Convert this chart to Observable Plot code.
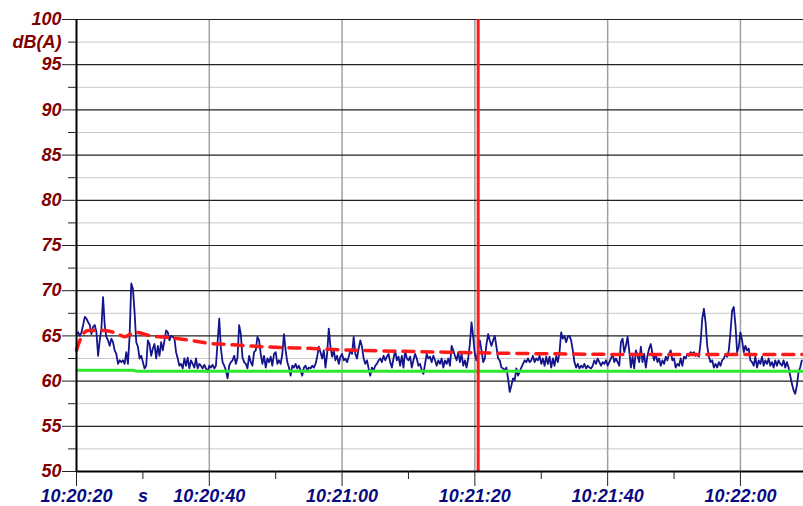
<!DOCTYPE html>
<html>
<head>
<meta charset="utf-8">
<script src="https://cdn.jsdelivr.net/npm/d3@7"></script>
<script src="https://cdn.jsdelivr.net/npm/@observablehq/plot@0.6"></script>
<style>
  html, body { margin: 0; padding: 0; background: #ffffff; }
  #chart svg { display: block; }
</style>
</head>
<body>
<div id="chart"></div>
<script>
// ---- Data (seconds after 10:20:20, sound level in dB(A)) ----
const sampleStep = 0.25; // s between samples of the instantaneous level
const levelPart1 = [
  65.2,65.4,65.0,65.4,66.2,67.1,66.9,66.5,66.2,65.2,
  66.0,66.2,65.4,62.8,64.5,65.8,69.3,66.2,64.9,64.5,
  63.9,64.7,64.3,63.4,63.0,61.9,62.3,62.1,62.3,61.9,
  63.2,61.9,65.0,70.8,70.2,67.6,64.3,63.8,62.5,62.8,
  62.1,61.4,61.7,64.5,64.1,62.8,63.6,64.1,62.5,63.9,
  62.8,64.3,63.4,64.5,65.6,65.4,64.5,65.0,64.9,64.7,
  63.2,62.5,61.7,61.9,61.4,62.5,61.7,62.6,61.4,62.3,
  61.9,61.5,62.5,61.4,61.9,61.7,61.4,61.8,61.4,61.0,
  61.7,61.5,61.8,61.4,61.7,64.3,66.9,63.6,62.1,61.7,
  61.2,60.3,61.7,62.1,62.3,62.8,61.9,62.6,66.2,65.2,
  62.6,62.1,61.9,61.4,62.8,62.1,61.7,63.2,63.4,64.9
];
const levelPart2 = [
  64.5,63.0,61.9,62.8,61.5,62.5,62.1,62.7,61.7,63.0,
  63.2,61.9,62.3,61.9,63.0,65.2,63.4,62.1,61.5,60.6,
  61.7,61.5,61.9,61.4,61.7,61.2,60.6,61.5,61.7,61.2,
  61.5,61.4,61.7,61.5,61.9,62.7,63.8,63.2,62.5,63.4,
  61.5,63.0,65.8,63.8,62.7,63.4,62.3,62.8,61.9,62.7,
  63.0,62.3,62.5,62.1,62.7,63.4,63.0,64.9,63.0,62.5,
  63.6,64.5,63.8,62.5,61.9,62.3,61.4,60.6,61.5,61.2,
  61.7,61.9,62.3,62.5,62.1,62.8,62.3,62.7,63.0,62.1,
  61.5,62.5,63.4,62.3,62.7,61.7,62.8,61.5,63.4,62.5,
  62.3,62.7,61.5,62.3,63.0,62.5,61.7,61.9,61.2,60.8,
  61.9,63.0,62.5,62.7,62.1,62.8,62.3,61.7
];
const levelPart3 = [
  62.3,61.9,62.5,61.5,62.3,61.9,62.5,61.7,63.9,63.4,
  62.8,62.3,63.2,62.1,63.0,61.7,62.3,61.5,62.5,64.1,
  66.5,64.9,63.0,62.3,63.4,64.5,63.4,62.1,62.5,64.1,
  65.2,64.5,63.9,64.5,65.0,63.8,62.5,62.3,61.5,61.4,
  61.2,61.5,60.3,58.8,59.5,60.3,60.1,61.4,60.6,61.0,
  61.5,61.9,62.3,62.1,62.5,62.1,62.3,62.8,62.1,62.5,
  62.3,62.8,61.9,62.5,61.7,62.7,61.9,62.7,61.5,62.5,
  61.7,62.8,62.1,63.2,65.4,64.7,65.0,64.3,64.9,65.0,
  64.5,63.4,62.1,61.5,61.9,61.4,61.7,61.5,61.9,61.4,
  61.7,61.5,61.4,61.7,62.3,61.9,62.5,62.1,61.7,62.1,
  61.9,62.3,61.7,62.1,62.5,63.0,62.1,62.5
];
const levelPart4 = [
  62.1,61.7,64.3,64.7,63.2,63.9,64.9,63.4,61.5,62.7,
  61.4,63.4,62.8,62.1,63.8,62.1,63.0,61.5,62.8,63.6,
  64.1,63.0,62.3,63.0,62.1,62.5,61.7,62.3,61.9,62.7,
  62.3,63.0,63.4,62.3,62.5,61.5,61.9,61.7,62.5,61.7,
  62.7,62.5,63.0,62.8,63.2,63.0,63.2,62.8,63.0,62.7,
  64.3,66.9,68.0,66.5,63.9,62.7,62.1,62.3,61.5,61.9,
  61.5,62.1,61.7,62.3,62.5,63.0,62.7,63.4,65.4,67.8,
  68.2,66.2,63.2,63.8,65.4,64.5,63.2,63.9,63.4,63.6,
  62.3,62.1,61.7,62.7,61.5,62.3,61.9,62.7,61.7,62.3,
  61.9,62.5,61.7,62.1,61.5,62.3,61.7,62.3,61.9,61.7,
  62.3,61.5,62.1,61.5,60.6,59.7,59.0,58.6,59.5,61.0,
  61.5,62.3
];

// running Leq (red dashed)
const leqSeconds = [0, 0.75, 1.75, 4.25, 6.25, 7.25, 8.75, 11.25, 14.25, 17.25, 19.75, 22.75, 25.75, 28.2, 35.6, 42.3, 49, 55.6, 62.7, 74.3, 83, 100, 109.5];
const leqValues  = [63.4, 64.9, 65.6, 65.6, 65.2, 64.9, 65.4, 65.0, 64.8, 64.5, 64.2, 64.05, 63.9, 63.8, 63.6, 63.4, 63.3, 63.2, 63.1, 63.0, 62.95, 62.95, 62.95];

// lower reference level (green)
const greenSeconds = [0, 8.5, 9, 109.5];
const greenValues  = [61.2, 61.2, 61.1, 61.1];

// cursor (red vertical)
const cursorSecond = 60.5;

// axes
const xDomain = [0, 109.5];
const yDomain = [50, 100];
const xTickSeconds = [0, 20, 40, 60, 80, 100];
const xTickLabels = ["10:20:20", "10:20:40", "10:21:00", "10:21:20", "10:21:40", "10:22:00"];
const xMinorSeconds = [10, 30, 50, 70, 90];
const xUnitSecond = 10;
const xUnitLabel = "s";
const yMajorTicks = [50, 55, 60, 65, 70, 75, 80, 85, 90, 95, 100];
const yMinorTicks = [52.5, 57.5, 62.5, 67.5, 72.5, 77.5, 82.5, 87.5, 92.5];
const yUnitTick = 97.5;
const yUnitLabel = "dB(A)";

// ---- build tables ----
const levels = [...levelPart1, ...levelPart2, ...levelPart3, ...levelPart4];
const series = levels.map((v, i) => ({t: i * sampleStep, v}));
const leq = leqSeconds.map((t, i) => ({t, v: leqValues[i]}));
const green = greenSeconds.map((t, i) => ({t, v: greenValues[i]}));

const yText = {fill: "#800000", fontWeight: "bold", fontStyle: "italic", fontSize: 18, stroke: "#222", label: null};
const xText = {fill: "#0a0a80", fontWeight: "bold", fontStyle: "italic", fontSize: 18, stroke: "#222", label: null};

const chart = Plot.plot({
  width: 803,
  height: 506,
  marginLeft: 76,
  marginRight: 0,
  marginTop: 19,
  marginBottom: 35,
  style: {fontFamily: "'Liberation Sans', Arial, sans-serif", background: "#ffffff", color: "#222"},
  x: {domain: xDomain, label: null},
  y: {domain: yDomain, label: null},
  marks: [
    Plot.ruleY([...yMinorTicks, yUnitTick], {stroke: "#c8c8c8", strokeWidth: 1}),
    Plot.ruleX(xTickSeconds.filter(d => d > 0), {stroke: "#a0a0a0", strokeWidth: 1.5}),
    Plot.ruleY(yMajorTicks, {stroke: "#222", strokeWidth: 1.2}),
    Plot.line(series, {x: "t", y: "v", stroke: "#14148c", strokeWidth: 1.8}),
    Plot.line(green, {x: "t", y: "v", stroke: "#2ee82e", strokeWidth: 3}),
    Plot.line(leq, {x: "t", y: "v", stroke: "#ff1a1a", strokeWidth: 3.5, strokeDasharray: "11,8", curve: "monotone-x"}),
    Plot.ruleX([cursorSecond], {stroke: "#ff1a1a", strokeWidth: 3}),
    Plot.ruleX([0], {stroke: "#000", strokeWidth: 2}),
    Plot.ruleY([50], {stroke: "#000", strokeWidth: 2}),
    Plot.axisY(yMajorTicks, {...yText, tickSize: 14, tickPadding: 1, tickFormat: d => String(d)}),
    Plot.axisY(yMinorTicks, {...yText, tickSize: 8, tickFormat: () => ""}),
    Plot.axisY([yUnitTick], {...yText, tickSize: 8, tickPadding: 7, tickFormat: () => yUnitLabel}),
    Plot.axisX(xTickSeconds, {...xText, tickSize: 15, tickPadding: 3, tickFormat: d => xTickLabels[xTickSeconds.indexOf(d)]}),
    Plot.axisX(xMinorSeconds, {...xText, tickSize: 8, tickPadding: 10, tickFormat: d => d === xUnitSecond ? xUnitLabel : ""})
  ]
});
document.getElementById("chart").appendChild(chart);
</script>
</body>
</html>
